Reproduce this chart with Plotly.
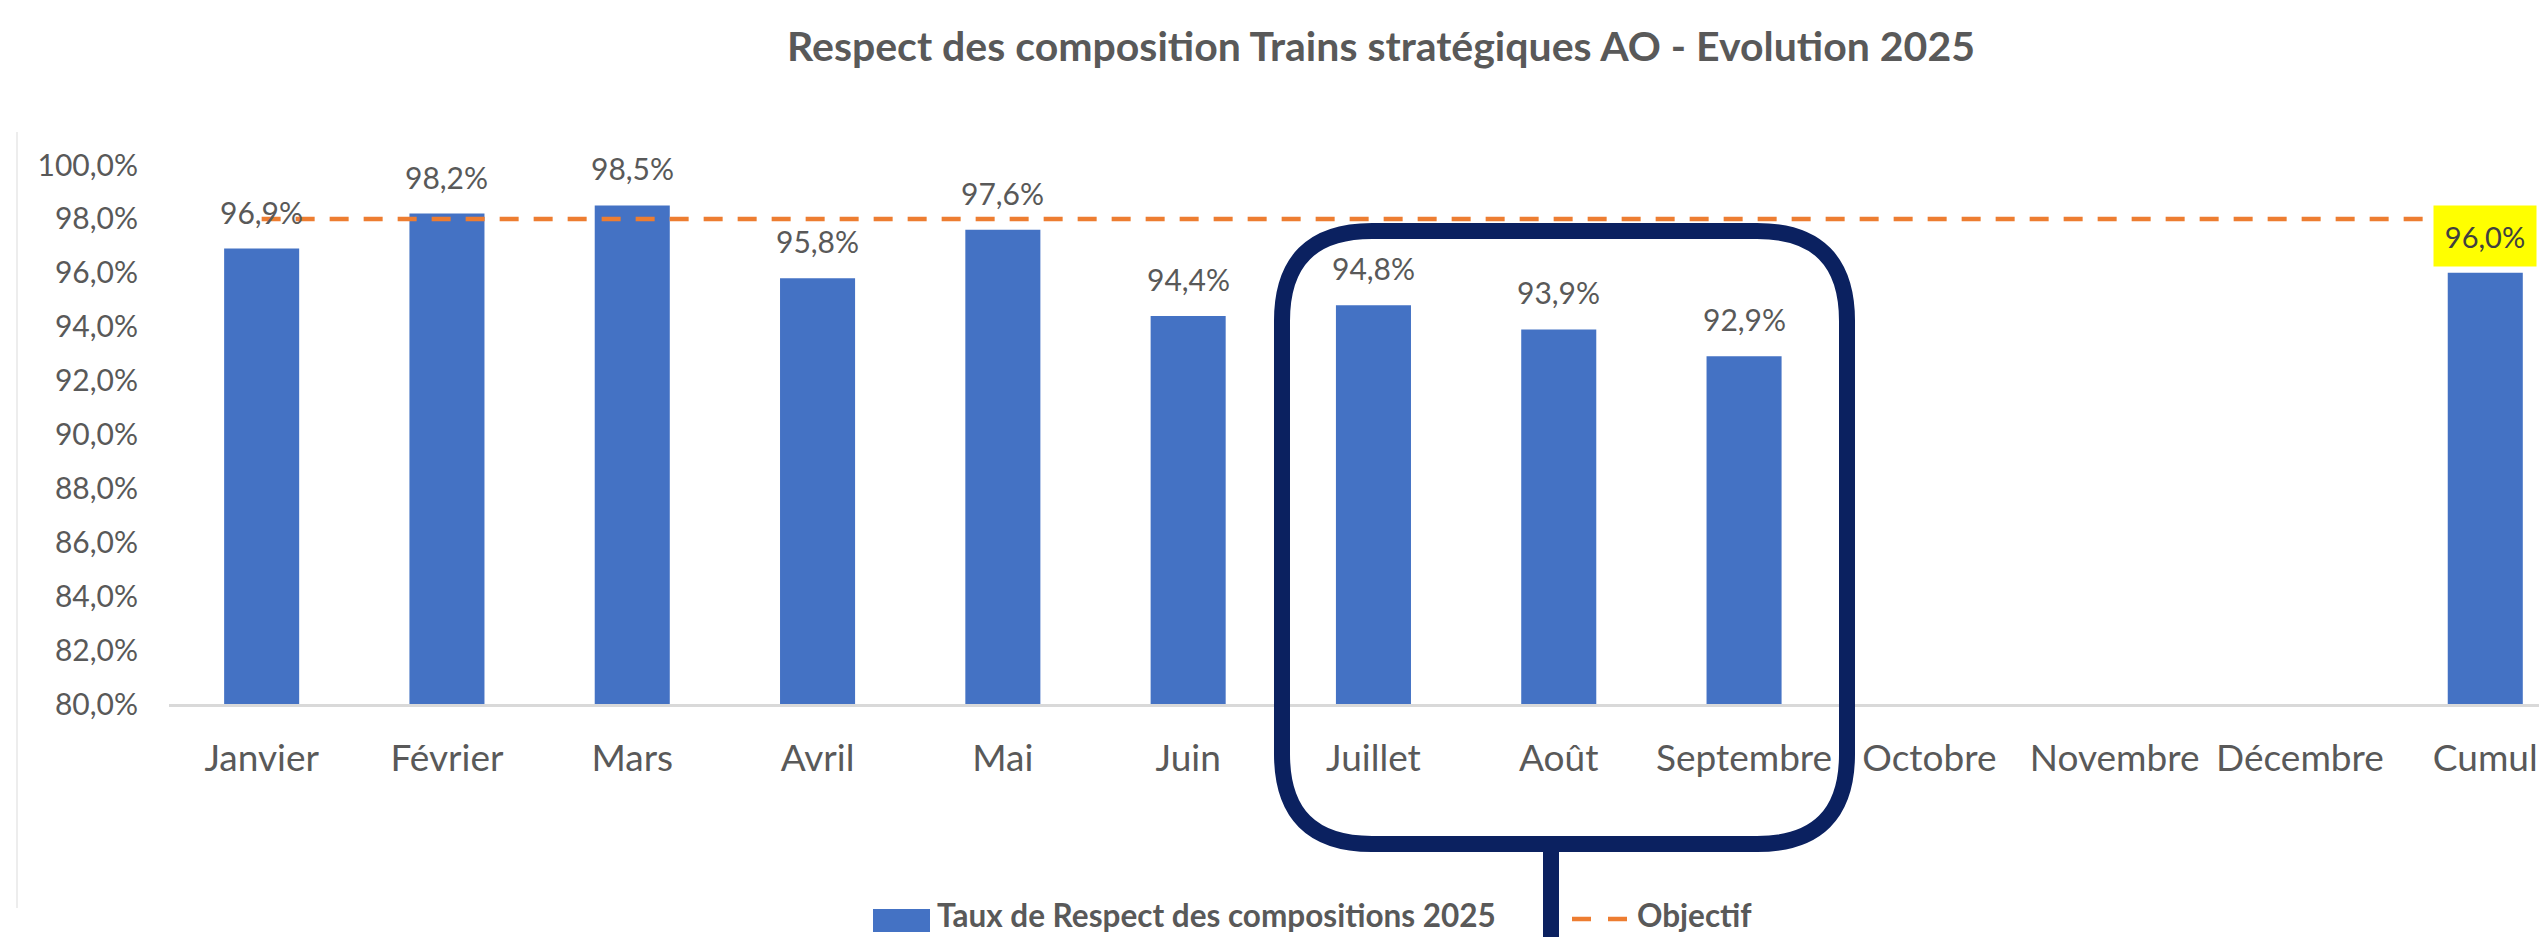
import plotly.graph_objects as go

# ---------------- data ----------------
CATEGORIES = ["Janvier", "Février", "Mars", "Avril", "Mai", "Juin", "Juillet",
              "Août", "Septembre", "Octobre", "Novembre", "Décembre", "Cumul"]
TAUX_2025 = [96.9, 98.2, 98.5, 95.8, 97.6, 94.4, 94.8, 93.9, 92.9, None, None, None, 96.0]
OBJECTIF = [98.0, 98.0, 98.0, 98.0, 98.0, 98.0, 98.0, 98.0, 98.0, 98.0, 98.0, 98.0, 98.0]
Y_TICKS = [80, 82, 84, 86, 88, 90, 92, 94, 96, 98, 100]
HIGHLIGHT = ["Cumul"]
NAME_BAR = "Taux de Respect des compositions 2025"
NAME_LINE = "Objectif"
TITLE = "Respect des composition Trains stratégiques AO - Evolution 2025"

# ---------------- style ----------------
W, H = 2539, 937
ML, MR, MT, MB = 169, 0, 165, 233
FONT = "Lato, 'Open Sans', sans-serif"
GREY = "#595959"
BLUE = "#4472C4"
ORANGE = "#ED7D31"
NAVY = "#0B2160"
DASH = "19px,15px"

PW = W - ML - MR
PH = H - MT - MB


def px(xp):
    return (xp - ML) / PW


def py(yp):
    return (H - MB - yp) / PH


def fmt(v):
    return f"{v:.1f}".replace(".", ",") + "%"


fig = go.Figure()
fig.add_trace(go.Bar(x=CATEGORIES, y=TAUX_2025, name=NAME_BAR,
                     marker=dict(color=BLUE, line=dict(width=0)),
                     width=0.405, showlegend=False, hoverinfo="x+y"))
fig.add_trace(go.Scatter(x=CATEGORIES, y=OBJECTIF, name=NAME_LINE, mode="lines",
                         line=dict(color=ORANGE, width=4.5, dash=DASH),
                         showlegend=False))

annotations = []
for c, v in zip(CATEGORIES, TAUX_2025):
    if v is None:
        continue
    if c in HIGHLIGHT:
        annotations.append(dict(x=c, y=v, xref="x", yref="y", text=fmt(v),
                                showarrow=False, yanchor="bottom", yshift=6,
                                width=102, height=60, bgcolor="#FFFF00", borderpad=0,
                                font=dict(family=FONT, size=29, color="#404040")))
    else:
        annotations.append(dict(x=c, y=v, xref="x", yref="y", text=fmt(v),
                                showarrow=False, yanchor="bottom", yshift=17,
                                font=dict(family=FONT, size=30, color=GREY)))

# manual legend
annotations.append(dict(x=px(935), y=py(915), xref="paper", yref="paper",
                        text=f"<b>{NAME_BAR}</b>", showarrow=False,
                        xanchor="left", yanchor="middle",
                        font=dict(family=FONT, size=31.5, color=GREY)))
annotations.append(dict(x=px(1635), y=py(915), xref="paper", yref="paper",
                        text=f"<b>{NAME_LINE}</b>", showarrow=False,
                        xanchor="left", yanchor="middle",
                        font=dict(family=FONT, size=31.5, color=GREY)))

shapes = []
shapes.append(dict(type="rect", xref="paper", yref="paper",
                   x0=px(873), x1=px(930), y0=py(932), y1=py(909),
                   fillcolor=BLUE, line=dict(width=0)))
shapes.append(dict(type="line", xref="paper", yref="paper",
                   x0=px(1572), x1=px(1627), y0=py(919), y1=py(919),
                   line=dict(color=ORANGE, width=4.5, dash="19px,17px")))

# faint chart-area border on the left
shapes.append(dict(type="line", xref="paper", yref="paper",
                   x0=px(17), x1=px(17), y0=py(132), y1=py(908),
                   line=dict(color="#EDEDED", width=2)))

# rounded highlight box around Juillet - Septembre
x0, x1, y0, y1, r = 1282, 1847, 231, 844, 90
pts = [
    ("M", [(x0 + r, y0)]),
    ("L", [(x1 - r, y0)]),
    ("Q", [(x1, y0), (x1, y0 + r)]),
    ("L", [(x1, y1 - r)]),
    ("Q", [(x1, y1), (x1 - r, y1)]),
    ("L", [(x0 + r, y1)]),
    ("Q", [(x0, y1), (x0, y1 - r)]),
    ("L", [(x0, y0 + r)]),
    ("Q", [(x0, y0), (x0 + r, y0)]),
]
path = ""
for cmd, ps in pts:
    path += cmd + " " + " ".join(f"{px(a):.5f},{py(b):.5f}" for a, b in ps) + " "
path += "Z"
shapes.append(dict(type="path", xref="paper", yref="paper", path=path,
                   line=dict(color=NAVY, width=16), fillcolor="rgba(0,0,0,0)",
                   layer="above"))
shapes.append(dict(type="line", xref="paper", yref="paper",
                   x0=px(1551), x1=px(1551), y0=py(y1 + 8), y1=py(H + 5),
                   line=dict(color=NAVY, width=16)))

fig.update_layout(
    width=W, height=H,
    margin=dict(l=ML, r=MR, t=MT, b=MB),
    paper_bgcolor="white", plot_bgcolor="white",
    separators=", ",
    font=dict(family=FONT, color=GREY),
    title=dict(text=f"<b>{TITLE}</b>", x=1381 / W, xanchor="center",
               y=1 - 47 / H, yanchor="middle",
               font=dict(family=FONT, size=41, color=GREY)),
    showlegend=False,
    annotations=annotations,
    shapes=shapes,
    bargap=0.595,
)
fig.update_xaxes(type="category", range=[-0.5, 12.29], showgrid=False,
                 showline=True, linecolor="#D9D9D9", linewidth=3,
                 ticks="", ticklabelstandoff=20,
                 tickfont=dict(family=FONT, size=37, color=GREY),
                 fixedrange=True)
fig.update_yaxes(range=[80, 100], tickmode="array", tickvals=Y_TICKS,
                 ticktext=[fmt(v) for v in Y_TICKS],
                 showgrid=False, zeroline=False, showline=False, ticks="",
                 ticklabelstandoff=30,
                 tickfont=dict(family=FONT, size=30, color=GREY),
                 fixedrange=True)

fig.write_html("out.html",
               config={"displayModeBar": False},
               post_script="document.body.style.margin='0';"
                           "document.body.style.overflow='hidden';")
